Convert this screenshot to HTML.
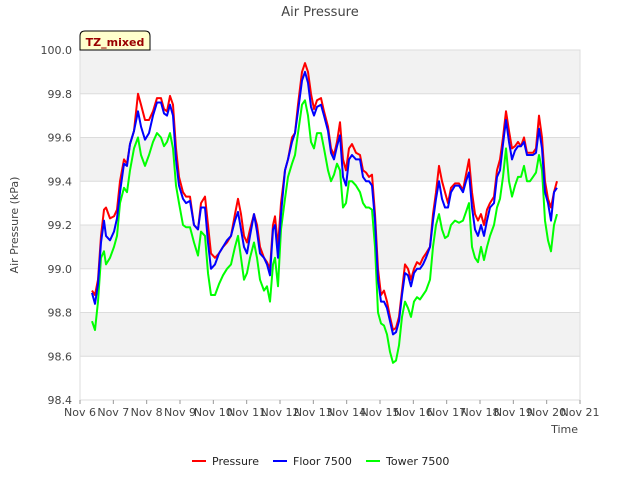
<!DOCTYPE html>
<html><head><meta charset="utf-8"><style>
body{margin:0;background:#fff;font-family:"Liberation Sans","DejaVu Sans",sans-serif;}
svg text{font-family:"DejaVu Sans","Liberation Sans",sans-serif;}
</style></head><body>
<svg id="c" width="640" height="480" xmlns="http://www.w3.org/2000/svg">
<text x="320" y="16" text-anchor="middle" font-size="13" fill="#444">Air Pressure</text>
<g id="bands"></g>
<g id="grid"></g>
<rect x="80" y="50" width="500" height="350" fill="none" stroke="#ddd"/>
<g id="yticks"></g>
<g id="xticks"></g>
<g id="series"></g>
<text transform="translate(18,225) rotate(-90)" text-anchor="middle" font-size="11" fill="#444">Air Pressure (kPa)</text>
<text x="578" y="433" text-anchor="end" font-size="11" fill="#444">Time</text>
<path d="M80,50 L80,36 Q80,31 85,31 L145,31 Q150,31 150,36 L150,50 Z" fill="#ffffcc" stroke="#000"/>
<text x="115" y="46" text-anchor="middle" font-size="11" font-weight="bold" fill="#990000">TZ_mixed</text>
<g>
<line x1="192" y1="461" x2="206" y2="461" stroke="#ff0000" stroke-width="2"/>
<text x="212" y="465" font-size="11" fill="#222">Pressure</text>
<line x1="273" y1="461" x2="287" y2="461" stroke="#0000ff" stroke-width="2"/>
<text x="293" y="465" font-size="11" fill="#222">Floor 7500</text>
<line x1="366" y1="461" x2="380" y2="461" stroke="#00ff00" stroke-width="2"/>
<text x="386" y="465" font-size="11" fill="#222">Tower 7500</text>
</g>
</svg>
<script>
const times=[.36,.45,.54,.63,.72,.78,.9,1.02,1.11,1.2,1.32,1.41,1.5,1.62,1.74,1.83,1.95,2.07,2.19,2.31,2.43,2.52,2.61,2.7,2.79,2.88,2.97,3.09,3.18,3.3,3.42,3.54,3.63,3.75,3.84,3.93,4.05,4.17,4.29,4.41,4.53,4.65,4.74,4.83,4.92,5.01,5.1,5.22,5.31,5.4,5.52,5.61,5.7,5.79,5.85,5.94,6.03,6.15,6.24,6.36,6.45,6.54,6.66,6.75,6.84,6.93,7.02,7.11,7.23,7.32,7.44,7.53,7.62,7.71,7.8,7.89,7.98,8.07,8.16,8.28,8.4,8.49,8.58,8.67,8.76,8.85,8.94,9.03,9.12,9.21,9.3,9.39,9.48,9.57,9.66,9.75,9.84,9.93,10.02,10.11,10.2,10.29,10.38,10.5,10.59,10.68,10.77,10.86,10.95,11.04,11.13,11.25,11.37,11.49,11.58,11.67,11.76,11.85,11.94,12.03,12.12,12.21,12.3,12.42,12.51,12.6,12.69,12.78,12.87,12.96,13.05,13.14,13.23,13.32,13.41,13.5,13.59,13.68,13.77,13.86,13.95,14.04,14.13,14.22,14.31];
const pressure=[98.90,98.88,98.95,99.15,99.27,99.28,99.23,99.24,99.27,99.40,99.50,99.48,99.57,99.63,99.80,99.75,99.68,99.68,99.72,99.78,99.78,99.73,99.72,99.79,99.75,99.55,99.42,99.35,99.33,99.33,99.20,99.18,99.30,99.33,99.20,99.07,99.05,99.07,99.10,99.12,99.15,99.25,99.32,99.25,99.15,99.12,99.18,99.25,99.20,99.10,99.05,99.03,99.00,99.20,99.24,99.10,99.30,99.45,99.50,99.60,99.62,99.75,99.90,99.94,99.90,99.80,99.73,99.77,99.78,99.72,99.65,99.55,99.52,99.58,99.67,99.50,99.45,99.55,99.57,99.53,99.52,99.45,99.44,99.42,99.43,99.25,99.00,98.88,98.90,98.85,98.78,98.72,98.73,98.78,98.90,99.02,99.00,98.95,99.00,99.03,99.02,99.05,99.07,99.10,99.25,99.35,99.47,99.40,99.35,99.30,99.37,99.39,99.39,99.36,99.43,99.50,99.35,99.25,99.22,99.25,99.20,99.27,99.30,99.33,99.45,99.50,99.60,99.72,99.63,99.55,99.56,99.58,99.56,99.60,99.53,99.53,99.53,99.55,99.70,99.60,99.40,99.32,99.28,99.35,99.40];
const floor7500=[98.89,98.84,98.93,99.12,99.22,99.15,99.13,99.17,99.23,99.35,99.48,99.47,99.57,99.63,99.72,99.65,99.59,99.62,99.70,99.76,99.76,99.71,99.70,99.75,99.70,99.50,99.38,99.32,99.30,99.31,99.20,99.18,99.28,99.28,99.12,99.00,99.02,99.07,99.10,99.13,99.15,99.22,99.26,99.18,99.10,99.07,99.15,99.25,99.17,99.07,99.05,99.02,98.97,99.18,99.20,99.05,99.25,99.45,99.50,99.58,99.62,99.72,99.86,99.90,99.85,99.74,99.70,99.74,99.75,99.70,99.63,99.53,99.50,99.56,99.61,99.42,99.38,99.50,99.52,99.50,99.50,99.42,99.40,99.40,99.38,99.22,98.95,98.85,98.85,98.82,98.76,98.70,98.71,98.76,98.88,98.98,98.97,98.92,98.98,99.00,99.00,99.02,99.05,99.10,99.22,99.32,99.40,99.32,99.28,99.28,99.35,99.38,99.38,99.35,99.40,99.44,99.28,99.18,99.15,99.20,99.15,99.22,99.28,99.30,99.42,99.45,99.57,99.68,99.58,99.50,99.54,99.56,99.56,99.58,99.52,99.52,99.52,99.53,99.64,99.55,99.35,99.30,99.22,99.35,99.37];
const tower7500=[98.76,98.72,98.85,99.05,99.08,99.02,99.05,99.10,99.15,99.30,99.37,99.35,99.45,99.55,99.60,99.52,99.47,99.52,99.58,99.62,99.60,99.56,99.58,99.62,99.55,99.38,99.30,99.20,99.19,99.19,99.12,99.06,99.17,99.15,98.98,98.88,98.88,98.93,98.97,99.00,99.02,99.10,99.15,99.05,98.95,98.98,99.05,99.12,99.05,98.95,98.90,98.92,98.85,99.02,99.05,98.92,99.18,99.32,99.42,99.48,99.52,99.62,99.75,99.77,99.70,99.58,99.55,99.62,99.62,99.55,99.45,99.40,99.43,99.48,99.45,99.28,99.30,99.40,99.40,99.38,99.35,99.30,99.28,99.28,99.27,99.10,98.80,98.75,98.74,98.70,98.62,98.57,98.58,98.65,98.78,98.85,98.82,98.78,98.85,98.87,98.86,98.88,98.90,98.95,99.10,99.20,99.25,99.18,99.14,99.15,99.20,99.22,99.21,99.22,99.26,99.30,99.10,99.05,99.03,99.10,99.04,99.10,99.15,99.20,99.28,99.32,99.42,99.55,99.40,99.33,99.38,99.42,99.42,99.47,99.40,99.40,99.42,99.44,99.52,99.45,99.22,99.13,99.08,99.20,99.25];
const yTicks=[98.4,98.6,98.8,99.0,99.2,99.4,99.6,99.8,100.0];
const xTickLabels=["Nov 6","Nov 7","Nov 8","Nov 9","Nov 10","Nov 11","Nov 12","Nov 13","Nov 14","Nov 15","Nov 16","Nov 17","Nov 18","Nov 19","Nov 20","Nov 21"];

const NS="http://www.w3.org/2000/svg";
const X0=80,X1=580,Y0=400,Y1=50,YMIN=98.4,YMAX=100.0,DAYS=15;
const xs=d=>X0+d/DAYS*(X1-X0);
const ys=v=>Y0-(v-YMIN)/(YMAX-YMIN)*(Y0-Y1);
function mk(tag,attrs,parent){const e=document.createElementNS(NS,tag);for(const k in attrs)e.setAttribute(k,attrs[k]);parent.appendChild(e);return e;}
const bands=document.getElementById('bands'),grid=document.getElementById('grid'),yt=document.getElementById('yticks'),xt=document.getElementById('xticks'),sg=document.getElementById('series');
for(let i=0;i<yTicks.length-1;i++){
  const r=mk('rect',{x:X0,y:ys(yTicks[i+1]),width:X1-X0,height:ys(yTicks[i])-ys(yTicks[i+1]),fill:(i%2===1)?'#f2f2f2':'#ffffff'},bands);
  
  
}
yTicks.forEach(v=>{
  const l=mk('line',{x1:X0,x2:X1,y1:ys(v),y2:ys(v),stroke:'#dcdcdc'},grid);
  
  
  const t=mk('text',{x:72,y:ys(v)+4,'text-anchor':'end','font-size':11,fill:'#444'},yt);
  t.textContent=v.toFixed(1);
  
  
});
xTickLabels.forEach((lab,i)=>{
  const tk=mk('line',{x1:xs(i),x2:xs(i),y1:Y0,y2:Y0+4,stroke:'#999'},xt);
  
  
  const t=mk('text',{x:xs(i),y:416,'text-anchor':'middle','font-size':11,fill:'#444'},xt);
  t.textContent=lab;
  
  
});
function line(vals,color,name){
  const d=vals.map((v,i)=>(i?'L':'M')+xs(times[i]).toFixed(1)+','+ys(v).toFixed(1)).join(' ');
  const p=mk('path',{d:d,fill:'none',stroke:color,'stroke-width':2,'stroke-linejoin':'round'},sg);
  
  
}
line(tower7500,'#00ff00','tower-7500-line');
line(pressure,'#ff0000','pressure-line');
line(floor7500,'#0000ff','floor-7500-line');
</script>
</body></html>
